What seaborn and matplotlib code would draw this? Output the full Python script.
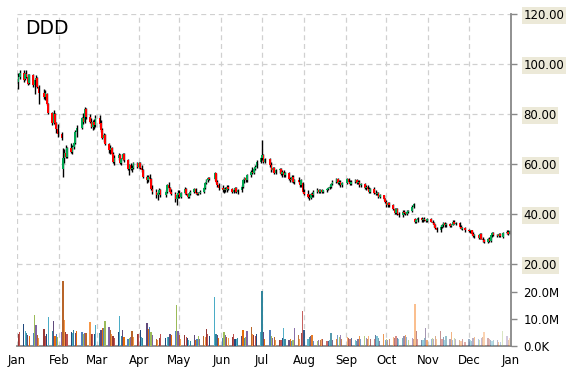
import matplotlib
matplotlib.use("Agg")
import matplotlib.pyplot as plt
import matplotlib.dates as mdates
import seaborn as sns
import numpy as np
import pandas as pd

# giorni di borsa 2014 (festivi NYSE esclusi)
holidays = ["2014-01-01", "2014-01-20", "2014-02-17", "2014-04-18", "2014-05-26",
            "2014-07-04", "2014-09-01", "2014-11-27", "2014-12-25"]
days = pd.bdate_range("2014-01-01", "2014-12-31", freq="C", holidays=holidays)

ticker = "DDD"

opens = [
    93.0, 95.0, 96.5, 94.0, 96.0, 95.0, 92.5, 95.5, 91.5, 93.5, 94.5, 91.0, 88.5, 87.0, 88.0, 84.0, 80.5, 76.5, 80.0, 76.5, 74.0,
    72.0, 58.0, 62.5, 64.5, 63.0, 66.5, 65.0, 67.0, 68.5, 73.0, 74.5, 78.5, 77.0, 82.0, 79.0, 77.0, 75.0, 77.0, 75.5,
    78.5, 76.5, 73.5, 70.5, 71.5, 68.0, 65.5, 66.5, 64.0, 61.0, 62.5, 63.5, 60.5, 62.0, 64.0, 61.5, 58.0, 59.5, 58.0, 58.5, 60.5,
    59.0, 60.5, 58.5, 57.5, 55.0, 53.5, 55.0, 54.0, 50.0, 49.0, 47.5, 48.5, 49.5, 47.5, 49.0, 51.5, 50.5, 49.0, 48.0, 46.0, 47.5,
    48.5, 47.0, 48.5, 50.0, 48.0, 47.0, 48.0, 49.0, 50.0, 48.5, 48.0, 48.5, 49.0, 50.5, 52.5, 53.5, 54.5, 54.0, 56.5, 53.0, 51.5,
    50.5, 49.5, 50.0, 49.5, 51.0, 50.0, 49.0, 49.5, 50.5, 49.0, 49.5, 51.0, 53.5, 54.5, 53.5, 55.5, 57.0, 56.5, 58.0, 59.0, 61.0,
    62.5, 63.5, 61.0, 62.0, 59.5, 57.5, 58.5, 56.5, 57.5, 58.0, 56.0, 57.0, 55.5, 56.5, 54.0, 53.5, 55.0, 53.0, 53.5, 53.0, 51.5, 52.5,
    49.0, 48.0, 47.0, 46.5, 48.0, 47.5, 49.0, 49.5, 48.8, 49.5, 49.0, 49.5, 50.0, 50.5, 51.0, 52.0, 53.0, 54.0, 52.5, 53.0, 51.5,
    52.5, 54.0, 53.0, 52.0, 53.0, 53.5, 52.5, 53.0, 51.5, 52.0, 50.5, 51.0, 50.0, 49.0, 50.0, 48.5, 48.0, 48.5, 47.0, 47.5, 46.0,
    45.0, 43.5, 44.5, 43.5, 42.0, 40.5, 42.0, 40.0, 39.5, 41.0, 40.5, 40.0, 41.0, 41.2, 43.0, 38.0, 37.0, 37.5, 38.5, 37.5, 38.0, 37.5, 37.2,
    38.0, 37.0, 36.5, 35.5, 34.5, 33.5, 35.0, 35.5, 36.5, 35.5, 36.0, 35.2, 35.8, 37.0, 36.2, 36.5, 35.0, 34.2, 34.5,
    33.5, 33.2, 33.5, 32.0, 31.2, 31.5, 30.5, 32.0, 30.2, 29.5, 28.8, 30.0, 29.2, 31.5, 32.5, 31.5, 31.2, 32.0, 30.8, 32.6, 33.0, 32.2,
]
highs = [
    96.5, 97.5, 97.8, 96.5, 97.5, 96.0, 96.0, 96.0, 94.0, 95.5, 95.0, 91.5, 90.0, 89.5, 88.5, 84.5, 81.0, 81.5, 80.5, 77.0, 76.0,
    73.0, 66.5, 66.0, 67.5, 67.0, 68.5, 67.5, 69.0, 73.5, 75.5, 79.0, 80.5, 82.8, 82.5, 80.0, 78.5, 77.5, 78.0, 79.5,
    79.5, 77.5, 74.5, 72.5, 72.0, 68.5, 67.5, 67.0, 65.0, 63.5, 64.5, 64.0, 62.5, 64.5, 64.5, 62.0, 60.0, 60.5, 59.5, 61.0, 61.0,
    60.8, 61.0, 59.5, 58.0, 55.5, 55.5, 56.0, 54.5, 51.5, 50.0, 49.0, 50.5, 50.0, 49.5, 52.0, 52.8, 51.0, 50.0, 49.0, 48.0, 49.5,
    49.5, 49.0, 50.8, 50.5, 48.5, 48.5, 49.5, 50.4, 50.5, 49.0, 49.0, 49.5, 51.0, 53.0, 54.0, 55.0, 55.0, 56.8, 56.5, 53.6, 52.5,
    51.6, 50.5, 51.0, 51.5, 51.6, 50.5, 50.0, 51.0, 51.0, 50.0, 51.5, 54.0, 54.8, 55.0, 56.0, 57.5, 58.8, 58.5, 59.5, 61.6, 63.0,
    69.6, 64.0, 62.5, 62.5, 60.8, 58.8, 59.0, 58.0, 58.5, 58.5, 57.5, 57.5, 57.0, 56.8, 55.0, 55.5, 55.5, 54.0, 54.8, 53.5, 54.0, 53.0,
    50.0, 49.5, 48.0, 48.5, 49.0, 49.5, 50.4, 50.0, 50.0, 50.0, 49.8, 50.4, 51.0, 51.5, 52.5, 53.6, 54.4, 54.4, 53.5, 53.5, 53.0,
    54.4, 54.5, 53.5, 53.5, 54.0, 54.0, 53.5, 53.8, 52.5, 52.5, 51.5, 51.6, 51.0, 50.5, 51.0, 49.5, 49.0, 49.0, 48.0, 47.6, 46.5,
    45.5, 44.8, 45.0, 44.0, 42.5, 42.5, 42.5, 41.0, 41.5, 41.6, 41.0, 41.5, 41.6, 43.5, 44.4, 38.4, 38.0, 38.8, 38.8, 38.5, 38.8, 38.0, 38.5,
    38.5, 37.6, 37.0, 36.0, 35.0, 35.5, 36.0, 36.8, 36.8, 36.5, 36.5, 36.0, 37.6, 37.6, 37.0, 36.8, 35.5, 34.8, 34.8,
    34.0, 33.8, 33.8, 32.8, 32.0, 32.0, 32.4, 32.4, 31.0, 30.0, 30.5, 31.0, 31.8, 32.8, 32.8, 32.0, 32.4, 32.4, 32.8, 33.6, 33.5, 33.6,
]
lows = [
    90.0, 94.0, 93.0, 93.5, 94.5, 91.5, 92.0, 91.0, 88.0, 92.5, 90.5, 84.0, 86.0, 85.5, 83.5, 80.0, 75.5, 76.0, 75.5, 72.5, 71.0,
    69.5, 55.0, 60.5, 62.5, 62.5, 64.5, 64.0, 66.0, 68.0, 71.0, 74.0, 76.0, 76.5, 78.0, 76.5, 74.5, 73.5, 74.0, 75.0,
    75.0, 73.0, 70.0, 68.8, 67.5, 64.5, 64.0, 63.5, 60.5, 59.5, 61.5, 60.0, 59.5, 61.5, 61.0, 57.5, 55.5, 57.5, 57.0, 58.0, 58.5,
    58.5, 58.0, 57.0, 54.5, 52.5, 53.0, 53.5, 49.5, 48.0, 46.5, 45.5, 48.0, 47.0, 47.0, 48.5, 50.0, 48.5, 47.5, 45.0, 43.6, 46.5,
    46.5, 46.5, 48.0, 47.5, 46.4, 46.5, 47.5, 48.5, 48.0, 47.5, 47.6, 48.0, 48.5, 50.0, 52.0, 53.0, 53.5, 53.8, 52.5, 51.0, 49.6,
    49.0, 48.5, 49.0, 49.0, 49.5, 48.4, 48.5, 49.0, 48.5, 48.0, 49.0, 50.5, 52.5, 53.0, 53.0, 55.0, 56.0, 56.0, 57.5, 58.5, 60.5,
    61.5, 60.5, 60.5, 59.0, 56.8, 57.0, 56.0, 56.0, 56.5, 55.5, 55.0, 54.8, 55.0, 53.5, 52.8, 53.0, 52.5, 52.0, 52.5, 51.0, 51.0, 48.5,
    47.5, 46.5, 45.6, 46.0, 47.0, 47.0, 48.5, 48.4, 48.5, 48.5, 48.4, 49.0, 49.5, 50.0, 50.5, 51.5, 52.5, 52.0, 51.5, 50.8, 51.0,
    52.0, 52.5, 51.5, 51.5, 52.5, 52.0, 52.0, 51.0, 50.8, 50.0, 49.5, 49.5, 48.5, 48.5, 48.0, 47.6, 47.5, 46.5, 46.5, 45.5, 44.5,
    43.0, 42.8, 43.0, 41.5, 40.0, 40.0, 39.5, 38.8, 39.0, 40.0, 39.5, 39.5, 40.4, 41.0, 42.4, 36.4, 36.5, 37.0, 37.0, 37.0, 37.2, 36.8, 37.0,
    36.8, 36.0, 35.0, 34.0, 33.0, 32.8, 34.5, 35.0, 35.0, 34.8, 35.0, 34.8, 35.5, 36.0, 35.6, 34.5, 34.0, 33.5, 33.0,
    32.8, 32.5, 31.5, 30.8, 30.4, 30.0, 30.2, 30.0, 29.0, 28.4, 28.4, 28.8, 29.0, 31.0, 31.2, 30.8, 31.0, 31.0, 30.4, 32.0, 31.6, 32.0,
]
closes = [
    95.0, 96.5, 93.8, 96.0, 95.0, 92.0, 95.5, 91.5, 93.5, 94.5, 91.0, 88.5, 87.0, 88.5, 84.0, 80.5, 76.5, 80.5, 76.5, 74.0, 72.0,
    70.5, 62.5, 64.5, 63.0, 66.5, 65.0, 67.0, 68.5, 73.0, 74.5, 78.5, 77.0, 82.0, 79.0, 77.0, 75.0, 77.0, 75.5, 78.5,
    76.0, 73.5, 70.5, 71.5, 68.0, 65.5, 66.5, 64.0, 61.0, 62.5, 63.5, 60.5, 62.0, 64.0, 61.5, 58.0, 59.5, 58.0, 58.5, 60.5, 59.0,
    60.5, 58.5, 57.5, 55.0, 53.5, 55.0, 54.0, 50.0, 49.0, 47.5, 48.5, 49.5, 47.5, 49.0, 51.5, 50.5, 49.0, 48.0, 46.0, 47.5, 48.5,
    47.0, 48.5, 50.0, 48.0, 47.0, 48.0, 49.0, 50.0, 48.5, 48.0, 48.5, 49.0, 50.5, 52.5, 53.5, 54.5, 54.0, 56.5, 53.0, 51.5, 50.5,
    49.5, 50.0, 49.5, 51.0, 50.0, 49.0, 49.5, 50.5, 49.0, 49.5, 51.0, 53.5, 54.5, 53.5, 55.5, 57.0, 56.5, 58.0, 59.0, 61.0, 62.5,
    63.5, 61.0, 62.0, 59.5, 57.5, 58.5, 56.5, 57.5, 58.0, 56.0, 57.0, 55.5, 56.5, 54.0, 53.5, 55.0, 53.0, 53.5, 52.8, 51.5, 53.5, 49.0,
    48.0, 47.0, 46.5, 48.0, 47.5, 49.0, 49.5, 48.8, 49.5, 49.0, 49.5, 50.0, 50.5, 51.0, 52.0, 53.0, 54.0, 52.5, 53.0, 51.5, 52.5,
    54.0, 53.0, 52.0, 53.0, 53.5, 52.5, 53.0, 51.5, 52.0, 50.5, 51.0, 50.0, 49.0, 50.0, 48.5, 48.0, 48.5, 47.0, 47.5, 46.0, 45.0,
    43.5, 44.5, 43.5, 42.0, 40.5, 42.0, 40.0, 39.5, 41.0, 40.5, 40.0, 41.0, 41.2, 43.0, 44.0, 37.0, 37.5, 38.5, 37.5, 38.0, 37.5, 37.2, 38.0,
    37.0, 36.5, 35.5, 34.5, 33.5, 35.0, 35.5, 36.5, 35.5, 36.0, 35.2, 35.8, 37.0, 36.2, 36.5, 35.0, 34.2, 34.5, 33.5,
    33.2, 33.5, 32.0, 31.2, 31.5, 30.5, 32.0, 30.2, 29.5, 28.8, 30.0, 29.2, 31.5, 32.5, 31.5, 31.2, 32.0, 31.2, 32.6, 33.0, 32.2, 33.4,
]
# volumi in milioni
volumes = [
    4.3, 5.2, 8.0, 5.5, 5.0, 4.0, 3.7, 5.0, 11.5, 7.8, 4.0, 3.0, 6.2, 3.7, 4.5, 10.7, 5.5, 9.3, 3.7, 4.3, 3.3,
    5.2, 24.0, 9.6, 5.2, 4.6, 5.2, 4.8, 5.8, 4.8, 5.5, 5.2, 4.3, 4.8, 4.8, 8.9, 4.3, 4.3, 4.3, 7.8,
    4.8, 5.8, 6.8, 6.8, 9.3, 7.0, 5.8, 4.6, 3.7, 3.1, 5.2, 11.1, 3.6, 5.8, 3.3, 2.6, 3.1, 3.3, 5.6, 3.3, 4.3,
    4.6, 5.8, 3.3, 3.1, 8.5, 6.2, 7.0, 5.2, 4.0, 2.5, 2.1, 3.0, 4.3, 2.8, 3.3, 3.5, 4.3, 4.0, 5.6, 15.2, 5.6,
    4.0, 2.5, 4.0, 3.3, 2.8, 2.2, 1.9, 4.0, 2.1, 2.5, 3.7, 2.5, 3.7, 3.3, 6.2, 4.6, 3.7, 18.1, 4.6, 4.0, 3.1,
    3.1, 5.2, 4.0, 3.3, 3.0, 3.3, 4.3, 2.5, 2.5, 3.0, 3.7, 5.8, 3.1, 3.3, 5.6, 7.0, 4.3, 4.0, 3.7, 4.3, 5.2,
    20.4, 5.2, 2.5, 5.9, 3.7, 3.0, 3.2, 2.3, 2.3, 2.4, 2.8, 6.5, 2.5, 2.2, 2.5, 1.9, 2.2, 6.8, 4.0, 2.7, 4.7, 13.0,
    5.8, 2.5, 3.5, 3.7, 4.0, 1.9, 1.9, 2.1, 2.2, 2.5, 2.6, 1.9, 1.9, 2.1, 4.8, 2.1, 2.5, 4.0, 3.5, 4.0, 2.7,
    3.5, 3.1, 2.5, 2.8, 2.2, 1.9, 2.5, 3.6, 2.5, 3.6, 3.1, 2.5, 3.6, 2.5, 2.5, 4.0, 3.7, 3.1, 1.9, 4.3, 2.1,
    2.5, 2.2, 2.5, 3.5, 3.1, 3.6, 3.1, 2.5, 3.1, 3.6, 4.0, 3.2, 2.1, 3.1, 2.5, 15.4, 5.6, 2.7, 2.1, 2.3, 3.1, 6.8, 2.1,
    2.5, 3.1, 2.5, 3.8, 2.7, 5.4, 2.5, 3.5, 2.1, 3.6, 2.5, 5.2, 2.2, 2.8, 2.5, 2.1, 1.9, 2.5, 1.6,
    2.5, 2.1, 1.9, 2.8, 3.2, 2.5, 2.1, 2.8, 3.4, 5.2, 3.0, 2.5, 2.2, 1.9, 2.3, 2.1, 1.6, 1.4, 5.4, 3.6, 2.2, 2.8,
]

month_starts = pd.date_range("2014-01-01", "2015-01-01", freq="MS")
month_labels = ["Jan", "Feb", "Mar", "Apr", "May", "Jun", "Jul",
                "Aug", "Sep", "Oct", "Nov", "Dec", "Jan"]
price_ticks = [20, 40, 60, 80, 100, 120]
vol_ticks = [0, 10, 20]
vol_labels = ["0.0K", "10.0M", "20.0M"]

sns.set_style("white")
plt.rcParams["font.family"] = ["DejaVu Sans"]

o = np.array(opens)
c = np.array(closes)
h = np.maximum(np.array(highs), np.maximum(o, c))
l = np.minimum(np.array(lows), np.minimum(o, c))
x = mdates.date2num(days)

fig = plt.figure(figsize=(5.7, 3.7), dpi=100)
ax = fig.add_axes([17 / 570, 24 / 370, 494 / 570, 332 / 370])
ax.set_facecolor("white")
ax.set_axisbelow(True)
ax2 = ax.twinx()

# candele: verde se chiude sopra l'apertura, rosso altrimenti
up = c >= o
col_candle = np.where(up, "#00A651", "#FF0000")
body = np.maximum(np.abs(c - o), 0.35)
ax.vlines(x, l, h, color="black", linewidth=1.0, zorder=2)
ax.bar(x, body, bottom=np.minimum(o, c), width=1.2, color=col_candle,
       linewidth=0, zorder=3)

ax.set_xlim(mdates.date2num(month_starts[0]), mdates.date2num(month_starts[-1]))
ax.set_ylim(-12.8, 120)
ax.set_xticks(mdates.date2num(month_starts))
ax.set_xticklabels(month_labels)
ax.set_yticks(price_ticks)
ax.set_yticklabels([f"{v:.2f}" for v in price_ticks])
ax.grid(True, color="#D0D0D0", linestyle=(0, (4, 3)), linewidth=0.9)

for s in ["left", "top"]:
    ax.spines[s].set_visible(False)
for s in ["right", "bottom"]:
    ax.spines[s].set_color("#888888")
    ax.spines[s].set_linewidth(1.3)
ax.tick_params(axis="both", colors="#888888", length=4, width=1, labelsize=8.5,
               labelcolor="black")
ax.tick_params(axis="y", pad=5, left=False, labelleft=False, right=True, labelright=True)
ax.tick_params(axis="x", pad=2)
for lab in ax.get_yticklabels():
    lab.set_bbox(dict(facecolor="#ECE9D8", edgecolor="none", pad=1.2))

# volumi, colori a rotazione che sbiadiscono verso fine anno
palette = sns.color_palette(["#953735", "#C0504D", "#1F497D", "#4BACC6", "#31859C", "#604A7B",
                             "#E46C0A", "#4F81BD", "#9BBB59", "#8064A2", "#B8652A", "#F79646"])
n = len(volumes)
t = np.arange(n) / n
alphas = np.clip(1.0 - (t - 0.5) * 1.3, 0.3, 1.0)
bar_cols = [(*palette[i % len(palette)], alphas[i]) for i in range(n)]
ax2.bar(x, volumes, width=0.9, color=bar_cols, linewidth=0)
ax2.set_ylim(0, 123)
ax2.set_yticks(vol_ticks)
ax2.set_yticklabels(vol_labels)
for s in ax2.spines.values():
    s.set_visible(False)
ax2.tick_params(axis="y", colors="#888888", length=4, width=1, labelsize=8.5,
                labelcolor="black", pad=5)

ax.text(0.016, 0.985, ticker, transform=ax.transAxes, fontsize=13.5,
        ha="left", va="top", color="black")

fig.savefig("out.png", dpi=100)
